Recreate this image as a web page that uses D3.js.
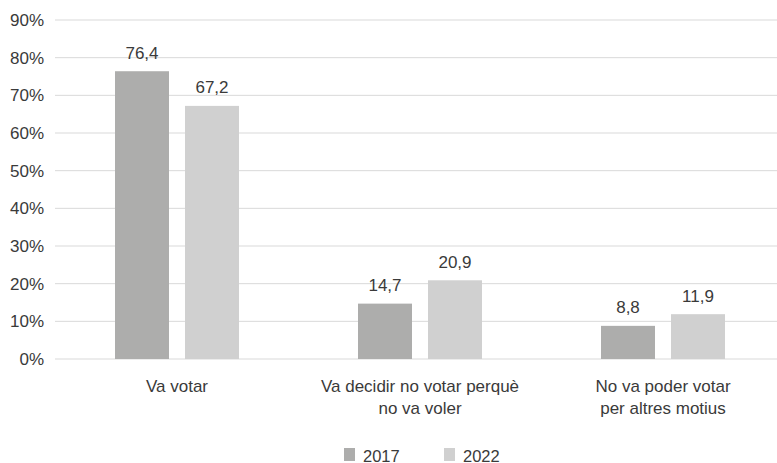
<!DOCTYPE html>
<html><head><meta charset="utf-8">
<script src="https://cdn.jsdelivr.net/npm/d3@7"></script>
<style>body{margin:0;background:#fff}svg{display:block}text{font-family:"Liberation Sans",Arial,sans-serif;fill:#3a3a3a}</style>
</head><body><svg id="c" width="777" height="463"></svg>
<script>
const categories = [["Va votar"], ["Va decidir no votar perquè", "no va voler"], ["No va poder votar", "per altres motius"]];
const series = ["2017", "2022"];
const values2017 = [76.4, 14.7, 8.8];
const values2022 = [67.2, 20.9, 11.9];
const yTicks = [0,10,20,30,40,50,60,70,80,90];
const colors = ["#adadac", "#d0d0d0"];

(function(){
const svg = d3.select("#c");
const plotLeft = 55.5, plotRight = 784.5, plotTop = 20, plotBottom = 359;
const x = d3.scaleBand().domain(d3.range(categories.length)).range([plotLeft, plotRight]);
const inner = d3.scaleBand().domain(series).range([x.bandwidth()/2 - 62, x.bandwidth()/2 + 62]).paddingInner(16/70);
const y = d3.scaleLinear().domain([0, 90]).range([plotBottom, plotTop]);

svg.append("g").selectAll("line").data(yTicks).join("line")
  .attr("x1", 55).attr("x2", 777).attr("y1", d => y(d)).attr("y2", d => y(d))
  .attr("stroke", "#d9d9d9").attr("stroke-width", 1);
svg.append("g").selectAll("text").data(yTicks).join("text")
  .attr("x", 44).attr("y", d => y(d) + 6).attr("text-anchor", "end")
  .attr("font-size", 17).text(d => d + "%");

const data = [];
categories.forEach((c, i) => {
  data.push({i, s: "2017", v: values2017[i]});
  data.push({i, s: "2022", v: values2022[i]});
});
const g = svg.append("g");
g.selectAll("rect").data(data).join("rect")
  .attr("x", d => x(d.i) + inner(d.s)).attr("width", inner.bandwidth())
  .attr("y", d => y(d.v)).attr("height", d => y(0) - y(d.v))
  .attr("fill", d => colors[series.indexOf(d.s)]);
g.selectAll("text").data(data).join("text")
  .attr("x", d => x(d.i) + inner(d.s) + inner.bandwidth()/2)
  .attr("y", d => y(d.v) - 12.5).attr("text-anchor", "middle").attr("font-size", 17)
  .text(d => d3.format(".1f")(d.v).replace(".", ","));

const cl = svg.append("g").selectAll("text").data(categories).join("text")
  .attr("text-anchor", "middle").attr("font-size", 17)
  .attr("transform", (d, i) => `translate(${x(i) + x.bandwidth()/2},392)`);
cl.selectAll("tspan").data(d => d).join("tspan")
  .attr("x", 0).attr("dy", (d, j) => j ? 21.5 : 0).text(d => d);

const lg = svg.append("g").selectAll("g").data(series).join("g")
  .attr("transform", (d, i) => `translate(${344 + i*100},448)`);
lg.append("rect").attr("width", 11).attr("height", 13).attr("fill", (d, i) => colors[i]);
lg.append("text").attr("x", 19).attr("y", 13.5).attr("font-size", 16.5).text(d => d);
})();
</script></body></html>
